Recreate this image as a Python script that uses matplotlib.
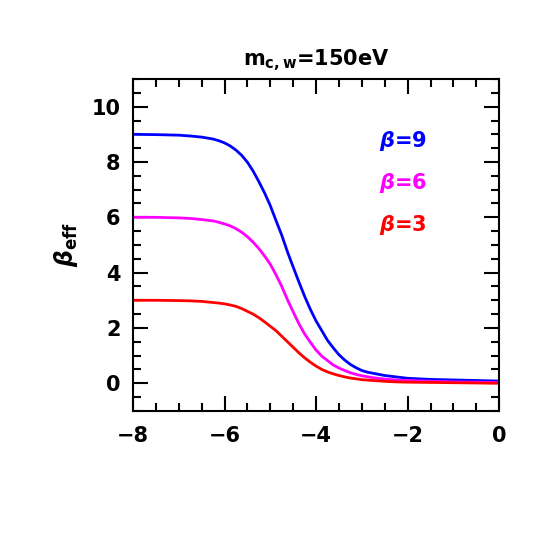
import matplotlib
matplotlib.use("Agg")
import matplotlib.pyplot as plt
from matplotlib.ticker import MultipleLocator

# values
x = [-8, -7.5, -7, -6.75, -6.5, -6.25, -6.125, -6,
     -5.875, -5.75, -5.625, -5.5, -5.375, -5.25, -5.125, -5,
     -4.875, -4.75, -4.625, -4.5, -4.375, -4.25, -4.125, -4,
     -3.875, -3.75, -3.625, -3.5, -3.375, -3.25, -3.125, -3,
     -2.875, -2.75, -2.5, -2.25, -2, -1.5, -1, -0.5, 0]
beta9 = [9.0, 8.99, 8.97, 8.94, 8.90, 8.83, 8.77, 8.69,
         8.58, 8.43, 8.24, 7.99, 7.67, 7.29, 6.88, 6.42,
         5.88, 5.35, 4.75, 4.2, 3.66, 3.14, 2.67, 2.25,
         1.9, 1.55, 1.28, 1.03, 0.84, 0.68, 0.56, 0.46,
         0.40, 0.36, 0.28, 0.23, 0.18, 0.14, 0.12, 0.1, 0.08]
beta6 = [6.0, 6.0, 5.98, 5.96, 5.92, 5.87, 5.82, 5.76,
         5.69, 5.59, 5.46, 5.3, 5.1, 4.87, 4.6, 4.3,
         3.92, 3.5, 3.02, 2.58, 2.15, 1.78, 1.48, 1.2,
         0.98, 0.82, 0.66, 0.55, 0.46, 0.38, 0.32, 0.27,
         0.235, 0.2, 0.15, 0.12, 0.1, 0.07, 0.05, 0.04, 0.03]
beta3 = [3.0, 3.0, 2.99, 2.98, 2.96, 2.92, 2.9, 2.87,
         2.83, 2.78, 2.7, 2.6, 2.5, 2.37, 2.22, 2.06,
         1.9, 1.7, 1.5, 1.3, 1.1, 0.92, 0.76, 0.62,
         0.5, 0.41, 0.34, 0.28, 0.23, 0.19, 0.16, 0.13,
         0.115, 0.1, 0.07, 0.05, 0.04, 0.03, 0.02, 0.01, 0.0]

labels = [r"$\beta$=9", r"$\beta$=6", r"$\beta$=3"]
colors = ["blue", "magenta", "red"]

plt.rcParams["mathtext.fontset"] = "custom"
plt.rcParams["mathtext.it"] = "DejaVu Sans:italic:bold"
plt.rcParams["mathtext.rm"] = "DejaVu Sans:bold"
plt.rcParams["mathtext.bf"] = "DejaVu Sans:bold"

fig = plt.figure(figsize=(5.45, 5.45), dpi=100)
ax = fig.add_axes([0.244, 0.246, 0.672, 0.609])

for y, c in zip([beta9, beta6, beta3], colors):
    ax.plot(x, y, color=c, lw=2, solid_joinstyle="round")

for i, (lab, c) in enumerate(zip(labels, colors)):
    ax.text(-2.62, 8.75 - 1.52 * i, lab, color=c, fontsize=15,
            fontweight="bold", va="center", ha="left")

ax.set_xlim(-8, 0)
ax.set_ylim(-1, 11)
ax.xaxis.set_major_locator(MultipleLocator(2))
ax.xaxis.set_minor_locator(MultipleLocator(0.5))
ax.yaxis.set_major_locator(MultipleLocator(2))
ax.yaxis.set_minor_locator(MultipleLocator(0.5))
ax.tick_params(which="both", direction="in", top=True, right=True, width=1.5)
ax.tick_params(which="major", length=11, labelsize=15)
ax.tick_params(axis="x", which="major", pad=11)
ax.tick_params(axis="y", which="major", pad=9)
ax.tick_params(which="minor", length=5.5)
for lbl in ax.get_xticklabels() + ax.get_yticklabels():
    lbl.set_fontweight("bold")
for s in ax.spines.values():
    s.set_linewidth(1.5)

ax.set_ylabel(r"$\beta_{\rm eff}$", fontsize=17, labelpad=8)
ax.set_title(r"m$_{\rm c,w}$=150eV", fontsize=15, fontweight="bold", pad=10)

fig.savefig("out.png", dpi=100)
